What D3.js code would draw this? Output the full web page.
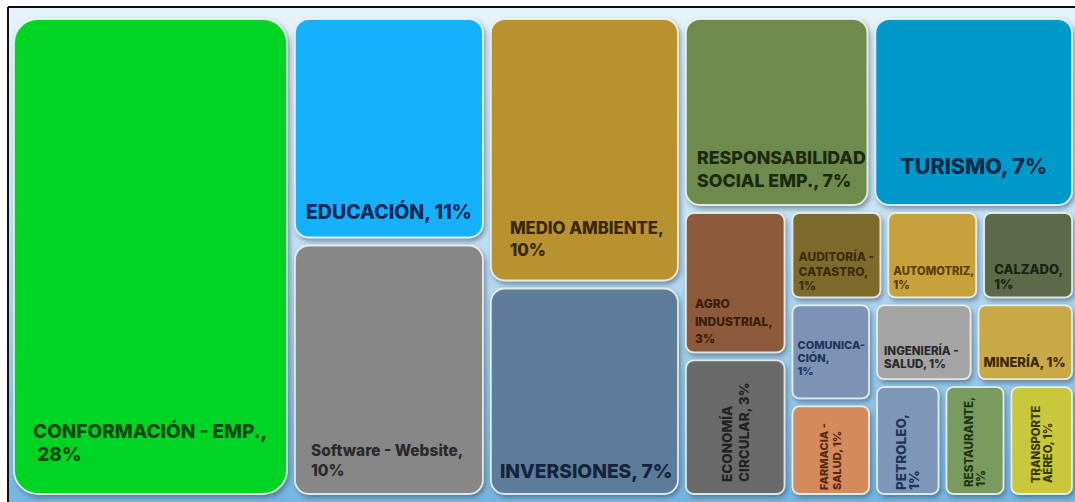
<!DOCTYPE html>
<html>
<head>
<meta charset="utf-8">
<script src="https://cdn.jsdelivr.net/npm/d3@7/dist/d3.min.js"></script>
<style>
  html, body { margin: 0; padding: 0; background: #ffffff; }
  svg { display: block; }
  text { font-family: Inter, "Open Sans", "DejaVu Sans", sans-serif; font-weight: 800; }
</style>
</head>
<body>
<svg id="chart" width="1075" height="502"></svg>
<script>
// ---------------- DATA ----------------
const categories = [
  "CONFORMACIÓN - EMP.", "EDUCACIÓN", "Software - Website", "MEDIO AMBIENTE", "INVERSIONES",
  "RESPONSABILIDAD SOCIAL EMP.", "TURISMO", "AGRO INDUSTRIAL", "ECONOMÍA CIRCULAR",
  "AUDITORÍA - CATASTRO", "AUTOMOTRIZ", "CALZADO", "COMUNICACIÓN", "FARMACIA - SALUD",
  "INGENIERÍA - SALUD", "MINERÍA", "PETROLEO", "RESTAURANTE", "TRANSPORTE AÉREO"
];
// tile area shares
const shares = [26.36, 8.62, 9.76, 10.21, 8.09, 7.14, 7.71, 3.05, 2.93,
                1.72, 1.72, 1.72, 1.66, 1.57, 1.61, 1.61, 1.55, 1.45, 1.53];
// percentages printed on the tiles
const pctLabels = ["28%", "11%", "10%", "10%", "7%", "7%", "7%", "3%", "3%",
                   "1%", "1%", "1%", "1%", "1%", "1%", "1%", "1%", "1%", "1%"];
// printed label lines ("|" = line break)
const labelText = [
  "CONFORMACIÓN - EMP.,| 28%", "EDUCACIÓN, 11%", "Software - Website,|10%", "MEDIO AMBIENTE,|10%",
  "INVERSIONES, 7%", "RESPONSABILIDAD|SOCIAL EMP., 7%", "TURISMO, 7%", "AGRO|INDUSTRIAL,|3%",
  "ECONOMÍA|CIRCULAR, 3%", "AUDITORÍA -|CATASTRO,|1%", "AUTOMOTRIZ,|1%", "CALZADO,|1%",
  "COMUNICA-|CIÓN,|1%", "FARMACIA -|SALUD, 1%", "INGENIERÍA -|SALUD, 1%", "MINERÍA, 1%",
  "PETROLEO,|1%", "RESTAURANTE,|1%", "TRANSPORTE|AÉREO, 1%"
];
// group each tile belongs to (layout nesting of the treemap)
const leafGroup = ["root", "col2", "col2", "col3", "col3", "top", "top", "agec", "agec",
                   "row1", "row1", "row1", "comfarm", "comfarm", "row2", "row2", "row3", "row3", "row3"];
const groupParent = { col2: "root", col3: "root", col4: "root", top: "col4", bottom: "col4",
  agec: "bottom", rest: "bottom", row1: "rest", lower: "rest", comfarm: "lower", right: "lower",
  row2: "right", row3: "right" };
const groupDir = { root: "h", col2: "v", col3: "v", col4: "v", top: "h", bottom: "h", agec: "v",
  rest: "v", row1: "h", lower: "h", comfarm: "v", right: "v", row2: "h", row3: "h" };

// ---------------- STYLE ----------------
const fillColors = ["#00d421", "#19b1fb", "#878787", "#b8922f", "#5d7c9a", "#6e8b4e", "#0499c9",
  "#8d5a3b", "#6a6a6a", "#7f6a2f", "#c7a23b", "#5b6b49", "#7b93b6", "#d58a5b", "#a4a4a4",
  "#c8a846", "#7e96b8", "#7a9b61", "#c9c83c"];
const textColors = ["#0b4a12", "#0c2a58", "#2a2a2a", "#3a2608", "#15243b", "#1a2a0e", "#0d2a4a",
  "#3a1d0c", "#222", "#3a2e08", "#5a3c08", "#1a2210", "#1f3558", "#5a2810", "#2a2a2a",
  "#3a2806", "#1e3458", "#1a3410", "#3a3608"];
// label style: mode (bl=bottom-left, c=centred, v=vertical), font size, line height, left pad, bottom pad, corner radius
const labelStyle = [
  { m: "bl", fs: 19, lh: 23, dl: 19, db: 33, r: 24 },
  { m: "bl", fs: 19.5, lh: 20, dl: 11, db: 19, r: 14 },
  { m: "bl", fs: 15.5, lh: 20, dl: 16, db: 18, r: 14 },
  { m: "bl", fs: 16.7, lh: 22, dl: 19, db: 24, r: 14 },
  { m: "bl", fs: 19.2, lh: 20, dl: 9, db: 16, r: 14 },
  { m: "bl", fs: 17.8, lh: 23, dl: 11, db: 18, r: 14 },
  { m: "c", fs: 21.5, lh: 20, dl: 0, db: 31, r: 14 },
  { m: "bl", fs: 12, lh: 17.5, dl: 9, db: 9, r: 8 },
  { m: "v", fs: 13.5, lh: 17, dl: 0, db: 12, r: 8 },
  { m: "bl", fs: 12, lh: 14.5, dl: 6, db: 7, r: 7 },
  { m: "bl", fs: 11.2, lh: 14, dl: 5, db: 8, r: 7 },
  { m: "bl", fs: 13, lh: 15, dl: 10, db: 8, r: 7 },
  { m: "bl", fs: 11, lh: 13, dl: 5, db: 23, r: 7 },
  { m: "v", fs: 11, lh: 12.5, dl: 0, db: 4, r: 7 },
  { m: "bl", fs: 11.5, lh: 13.5, dl: 7, db: 11, r: 7 },
  { m: "bl", fs: 13, lh: 14, dl: 5, db: 12, r: 7 },
  { m: "v", fs: 13.5, lh: 13, dl: 0, db: 4, r: 7 },
  { m: "v", fs: 11.5, lh: 11.5, dl: 0, db: 7, r: 7 },
  { m: "v", fs: 11.2, lh: 11.5, dl: 0, db: 11, r: 7 }
];

// ---------------- BUILD ----------------
const svg = d3.select("#chart");
const W = 1075, H = 502;
const defs = svg.append("defs");
const bg = defs.append("linearGradient").attr("id", "bg").attr("x1", 0).attr("y1", 0).attr("x2", 0).attr("y2", 1);
bg.append("stop").attr("offset", "0%").attr("stop-color", "#e6f3fb");
bg.append("stop").attr("offset", "45%").attr("stop-color", "#c4e2f5");
bg.append("stop").attr("offset", "100%").attr("stop-color", "#74b6e2");
const sh = defs.append("filter").attr("id", "shadow").attr("x", "-10%").attr("y", "-10%").attr("width", "130%").attr("height", "130%");
sh.append("feDropShadow").attr("dx", 2).attr("dy", 3).attr("stdDeviation", 2.5)
  .attr("flood-color", "#3a4a60").attr("flood-opacity", 0.55);

svg.append("rect").attr("x", 0).attr("y", 0).attr("width", W).attr("height", H).attr("fill", "#ffffff");
svg.append("rect").attr("x", 8).attr("y", 7).attr("width", W - 8).attr("height", H - 7).attr("fill", "url(#bg)");
svg.append("line").attr("x1", 8).attr("y1", 7).attr("x2", W).attr("y2", 7).attr("stroke", "#111").attr("stroke-width", 2);
svg.append("line").attr("x1", 8).attr("y1", 7).attr("x2", 8).attr("y2", H).attr("stroke", "#111").attr("stroke-width", 2);

const rows = [{ id: "root", parentId: null }];
Object.keys(groupParent).forEach(g => rows.push({ id: g, parentId: groupParent[g] }));
categories.forEach((c, i) => rows.push({ id: "leaf" + i, parentId: leafGroup[i], i, name: c, value: shares[i] }));

const root = d3.stratify().id(d => d.id).parentId(d => d.parentId)(rows)
  .sum(d => d.value || 0);
const minIdx = n => d3.min(n.leaves(), l => l.data.i);
root.sort((a, b) => minIdx(a) - minIdx(b));

const tile = (node, x0, y0, x1, y1) =>
  (groupDir[node.id] === "v" ? d3.treemapSlice : d3.treemapDice)(node, x0, y0, x1, y1);

d3.treemap().tile(tile).size([1058, 475]).paddingInner(8).round(false)(root);

const g = svg.append("g").attr("transform", "translate(14,19)");
const leaves = g.selectAll("g.leaf").data(root.leaves()).join("g").attr("class", "leaf");

leaves.append("rect")
  .attr("x", d => d.x0).attr("y", d => d.y0)
  .attr("width", d => d.x1 - d.x0).attr("height", d => d.y1 - d.y0)
  .attr("rx", d => labelStyle[d.data.i].r).attr("ry", d => labelStyle[d.data.i].r)
  .attr("fill", d => fillColors[d.data.i])
  .attr("stroke", "#eef7f2").attr("stroke-opacity", 0.85).attr("stroke-width", 1.8)
  .attr("filter", "url(#shadow)");

leaves.each(function (d) {
  const i = d.data.i, st = labelStyle[i];
  const lines = labelText[i].split("|");
  const n = lines.length;
  const sel = d3.select(this);
  if (st.m === "v") {
    const cx = (d.x0 + d.x1) / 2;
    const by = d.y1 - st.db;
    const t = sel.append("text").attr("fill", textColors[i]).attr("font-size", st.fs)
      .attr("transform", `translate(${cx},${by}) rotate(-90)`).attr("text-anchor", "start");
    lines.forEach((ln, k) => {
      t.append("tspan").attr("x", 0).attr("y", (k - (n - 1) / 2) * st.lh + st.fs * 0.36).text(ln);
    });
  } else {
    const t = sel.append("text").attr("fill", textColors[i]).attr("font-size", st.fs)
      .attr("text-anchor", st.m === "c" ? "middle" : "start");
    const x = st.m === "c" ? (d.x0 + d.x1) / 2 : d.x0 + st.dl;
    lines.forEach((ln, k) => {
      t.append("tspan").attr("x", x).attr("y", d.y1 - st.db - (n - 1 - k) * st.lh)
        .attr("xml:space", "preserve").text(ln);
    });
  }
});
</script>
</body>
</html>
